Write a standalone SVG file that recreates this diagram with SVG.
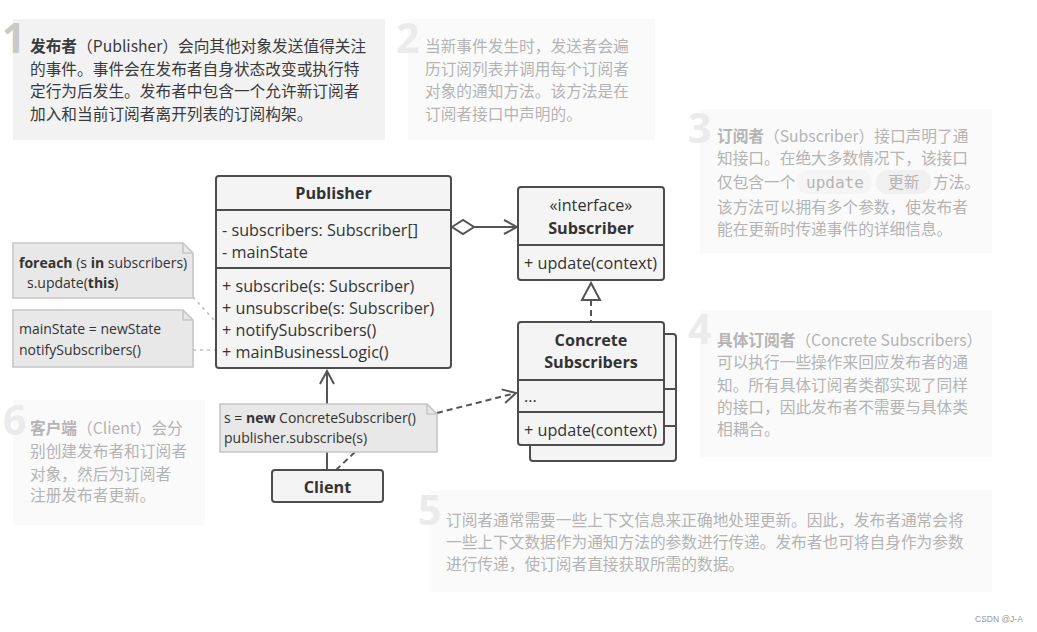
<svg xmlns="http://www.w3.org/2000/svg" width="1037" height="632" viewBox="0 0 1037 632">
<defs>
<style>
.cn{font-family:"Noto Sans CJK SC","Noto Sans",sans-serif;font-size:15.7px;}
.dk{fill:#3a3a3a;}
.lt{fill:#b4b4b4;}
.num{font-family:"Open Sans","Noto Sans",sans-serif;font-weight:bold;font-size:41px;}
.uml{font-family:"Open Sans","Noto Sans",sans-serif;font-size:16.2px;fill:#333;}
.b{font-weight:bold;}
.note{font-family:"Open Sans","Noto Sans",sans-serif;font-size:14px;fill:#333;}
.cls{fill:#f4f4f4;stroke:#4d4d4d;stroke-width:2;}
.sep{stroke:#4d4d4d;stroke-width:2;}
.nt{fill:#e8e8e8;stroke:#c6c6c6;stroke-width:1.6;}
.ln{stroke:#555;stroke-width:2;fill:none;}
.dash{stroke:#555;stroke-width:2;fill:none;stroke-dasharray:6,4;}
.dot{stroke:#c0c0c0;stroke-width:1.6;fill:none;stroke-dasharray:3,4;}
</style>
<marker id="open" markerWidth="16" markerHeight="16" viewBox="0 0 16 16" refX="14" refY="8" orient="auto" markerUnits="userSpaceOnUse">
<path d="M1,1 L14,8 L1,15" fill="none" stroke="#555" stroke-width="2"/>
</marker>
</defs>
<rect width="1037" height="632" fill="#ffffff"/>

<!-- Text boxes -->
<g id="box1">
<rect x="13" y="19" width="372" height="121" fill="#f2f2f2"/>
<text class="num" x="2" y="53" fill="#c9c9c9">1</text>
<text class="cn dk" x="30" y="52"><tspan font-weight="bold">发布者</tspan>（Publisher）会向其他对象发送值得关注</text>
<text class="cn dk" x="30" y="74.5">的事件。事件会在发布者自身状态改变或执行特</text>
<text class="cn dk" x="30" y="97">定行为后发生。发布者中包含一个允许新订阅者</text>
<text class="cn dk" x="30" y="119.5">加入和当前订阅者离开列表的订阅构架。</text>
</g>
<g id="box2">
<rect x="408" y="19" width="247" height="121" fill="#fafafa"/>
<text class="num" x="396" y="53" fill="#ebebeb">2</text>
<text class="cn lt" x="425" y="52">当新事件发生时，发送者会遍</text>
<text class="cn lt" x="425" y="74.5">历订阅列表并调用每个订阅者</text>
<text class="cn lt" x="425" y="97">对象的通知方法。该方法是在</text>
<text class="cn lt" x="425" y="119.5">订阅者接口中声明的。</text>
</g>
<g id="box3">
<rect x="700" y="109" width="292" height="144" fill="#fafafa"/>
<text class="num" x="688" y="143" fill="#ebebeb">3</text>
<rect x="796" y="170" width="76" height="24" rx="12" fill="#f5f5f5"/>
<rect x="876" y="170" width="55" height="24" rx="12" fill="#f0f0f0"/>
<text class="cn lt" x="717" y="142"><tspan font-weight="bold">订阅者</tspan>（Subscriber）接口声明了通</text>
<text class="cn lt" x="717" y="164">知接口。在绝大多数情况下，该接口</text>
<text class="cn lt" x="717" y="188">仅包含一个<tspan x="806" font-family="'DejaVu Sans Mono','Liberation Mono',monospace" font-size="16px">update</tspan><tspan x="888">更新</tspan><tspan x="933">方法。</tspan></text>
<text class="cn lt" x="717" y="213">该方法可以拥有多个参数，使发布者</text>
<text class="cn lt" x="717" y="235">能在更新时传递事件的详细信息。</text>
</g>
<g id="box4">
<rect x="700" y="310" width="292" height="147" fill="#fafafa"/>
<text class="num" x="688" y="344" fill="#ebebeb">4</text>
<text class="cn lt" x="717" y="346"><tspan font-weight="bold">具体订阅者</tspan>（Concrete Subscribers）</text>
<text class="cn lt" x="717" y="368">可以执行一些操作来回应发布者的通</text>
<text class="cn lt" x="717" y="391">知。所有具体订阅者类都实现了同样</text>
<text class="cn lt" x="717" y="413">的接口，因此发布者不需要与具体类</text>
<text class="cn lt" x="717" y="435">相耦合。</text>
</g>
<g id="box5">
<rect x="430" y="490" width="562" height="102" fill="#fafafa"/>
<text class="num" x="418" y="525" fill="#ebebeb">5</text>
<text class="cn lt" x="446" y="526" font-size="16px">订阅者通常需要一些上下文信息来正确地处理更新。因此，发布者通常会将</text>
<text class="cn lt" x="446" y="548" font-size="16px">一些上下文数据作为通知方法的参数进行传递。发布者也可将自身作为参数</text>
<text class="cn lt" x="446" y="570" font-size="16px">进行传递，使订阅者直接获取所需的数据。</text>
</g>
<g id="box6">
<rect x="13" y="400" width="192" height="125" fill="#fafafa"/>
<text class="num" x="3" y="435" fill="#ebebeb">6</text>
<text class="cn lt" x="30" y="434"><tspan font-weight="bold">客户端</tspan>（Client）会分</text>
<text class="cn lt" x="30" y="457">别创建发布者和订阅者</text>
<text class="cn lt" x="30" y="480">对象，然后为订阅者</text>
<text class="cn lt" x="30" y="501">注册发布者更新。</text>
</g>

<!-- Connectors -->
<g id="connectors">
<line class="ln" x1="327" y1="470" x2="327" y2="371" marker-end="url(#open)"/>
<polygon points="452,227 463,220 474,227 463,234" fill="#fff" stroke="#555" stroke-width="2"/>
<line class="ln" x1="474" y1="227" x2="517" y2="227" marker-end="url(#open)"/>
<line class="dash" x1="591" y1="300" x2="591" y2="322"/>
<polygon points="591,283 582,300 600,300" fill="#fff" stroke="#555" stroke-width="2"/>
<line class="dash" x1="437" y1="413" x2="516" y2="393" marker-end="url(#open)"/>
<line class="dash" x1="336" y1="470" x2="355" y2="452"/>
<line class="dot" x1="193" y1="297" x2="214" y2="320"/>
<line class="dot" x1="193" y1="350" x2="216" y2="350"/>
</g>

<!-- UML nodes -->
<g id="publisher">
<rect class="cls" x="216" y="176" width="235" height="192" rx="3"/>
<line class="sep" x1="216" y1="210" x2="451" y2="210"/>
<line class="sep" x1="216" y1="268" x2="451" y2="268"/>
<text class="uml b" x="333.5" y="199" text-anchor="middle">Publisher</text>
<text class="uml" x="222" y="236">- subscribers: Subscriber[]</text>
<text class="uml" x="222" y="258">- mainState</text>
<text class="uml" x="222" y="292">+ subscribe(s: Subscriber)</text>
<text class="uml" x="222" y="314">+ unsubscribe(s: Subscriber)</text>
<text class="uml" x="222" y="336">+ notifySubscribers()</text>
<text class="uml" x="222" y="358">+ mainBusinessLogic()</text>
</g>
<g id="subscriber">
<rect class="cls" x="518" y="187" width="146" height="93" rx="3"/>
<line class="sep" x1="518" y1="245" x2="664" y2="245"/>
<text class="uml" x="591" y="211" text-anchor="middle">«interface»</text>
<text class="uml b" x="591" y="234" text-anchor="middle">Subscriber</text>
<text class="uml" x="524" y="269">+ update(context)</text>
</g>
<g id="concrete">
<rect class="cls" x="530" y="334" width="146" height="127" rx="3"/>
<line class="sep" x1="664" y1="389" x2="676" y2="389"/>
<line class="sep" x1="664" y1="426" x2="676" y2="426"/>
<rect class="cls" x="518" y="322" width="146" height="123" rx="3"/>
<line class="sep" x1="518" y1="380" x2="664" y2="380"/>
<line class="sep" x1="518" y1="412" x2="664" y2="412"/>
<text class="uml b" x="591" y="346" text-anchor="middle">Concrete</text>
<text class="uml b" x="591" y="368" text-anchor="middle">Subscribers</text>
<text class="uml" x="524" y="402">...</text>
<text class="uml" x="524" y="436">+ update(context)</text>
</g>
<g id="client">
<rect class="cls" x="272" y="470" width="111" height="32" rx="3"/>
<text class="uml b" x="327.5" y="493" text-anchor="middle">Client</text>
</g>

<!-- Notes -->
<g id="note1">
<path class="nt" d="M13,243 H183 L193,253 V298 H13 Z"/>
<path d="M183,243 V253 H193" fill="none" stroke="#c6c6c6" stroke-width="1.6"/>
<text class="note" x="19" y="268"><tspan class="b">foreach</tspan> (s <tspan class="b">in</tspan> subscribers)</text>
<text class="note" x="27" y="288">s.update(<tspan class="b">this</tspan>)</text>
</g>
<g id="note2">
<path class="nt" d="M13,310 H183 L193,320 V367 H13 Z"/>
<path d="M183,310 V320 H193" fill="none" stroke="#c6c6c6" stroke-width="1.6"/>
<text class="note" x="19" y="334">mainState = newState</text>
<text class="note" x="19" y="355">notifySubscribers()</text>
</g>
<g id="note3">
<path class="nt" d="M220,404 H427 L437,414 V452 H220 Z"/>
<path d="M427,404 V414 H437" fill="none" stroke="#c6c6c6" stroke-width="1.6"/>
<text class="note" x="224" y="423">s = <tspan class="b">new</tspan> ConcreteSubscriber()</text>
<text class="note" x="224" y="443">publisher.subscribe(s)</text>
</g>

<text x="975" y="622" font-family="'Liberation Sans',Arial,sans-serif" font-size="8.5px" fill="#999">CSDN @J-A</text>
</svg>
